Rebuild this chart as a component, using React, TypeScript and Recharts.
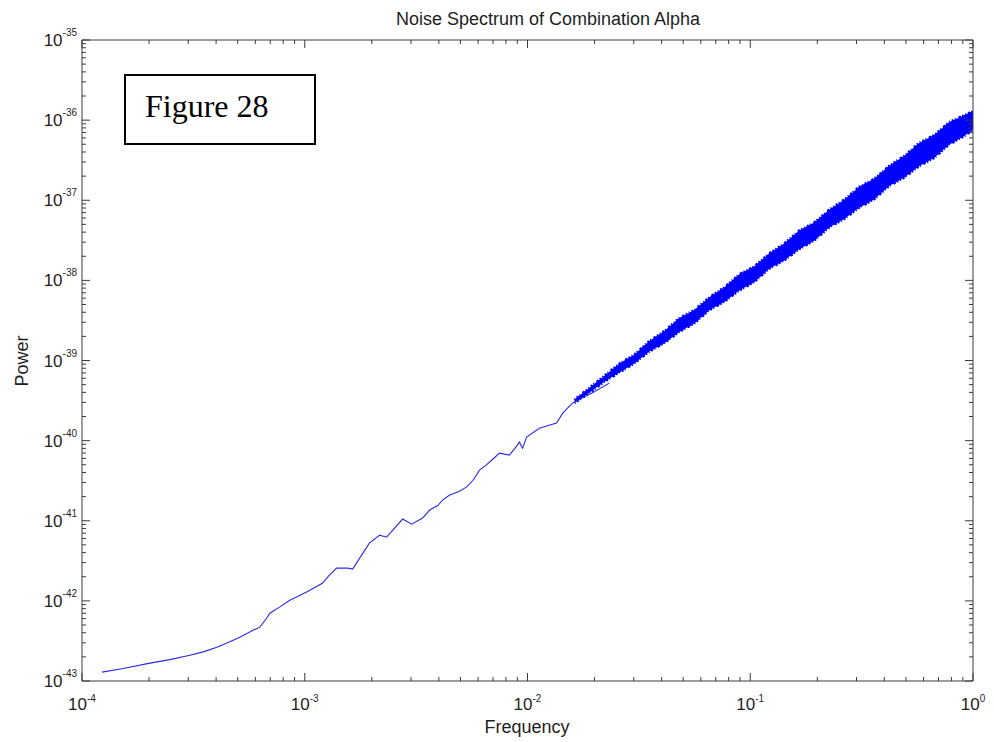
import { ComposedChart, Line, Area, XAxis, YAxis, ReferenceLine } from 'recharts';

// thin trace (frequency, power), up to where the noisy band starts
const freq = [
  1.23e-4, 1.53e-4, 2.02e-4, 2.48e-4, 3.05e-4, 3.5e-4, 4.03e-4, 4.61e-4, 5.11e-4, 5.86e-4,
  6.29e-4, 6.73e-4, 6.97e-4, 7.73e-4, 8.57e-4, 1.02e-3, 1.2e-3, 1.29e-3, 1.39e-3, 1.56e-3,
  1.64e-3, 1.95e-3, 2.17e-3, 2.33e-3, 2.75e-3, 3.02e-3, 3.38e-3, 3.64e-3, 3.95e-3, 4.16e-3,
  4.47e-3, 4.9e-3, 5.32e-3, 5.7e-3, 6.09e-3, 6.5e-3, 7.0e-3, 7.48e-3, 8.29e-3, 8.9e-3,
  9.2e-3, 9.5e-3, 9.91e-3, 1.13e-2, 1.35e-2, 1.44e-2, 1.59e-2, 1.95e-2, 2.33e-2,
];
const power = [
  1.29e-43, 1.43e-43, 1.67e-43, 1.85e-43, 2.1e-43, 2.31e-43, 2.64e-43, 3.08e-43, 3.52e-43, 4.3e-43,
  4.7e-43, 6.03e-43, 7.02e-43, 8.41e-43, 1.02e-42, 1.29e-42, 1.66e-42, 2.09e-42, 2.56e-42, 2.56e-42,
  2.49e-42, 5.25e-42, 6.61e-42, 6.24e-42, 1.05e-41, 9.08e-42, 1.08e-41, 1.36e-41, 1.55e-41, 1.81e-41,
  2.09e-41, 2.3e-41, 2.63e-41, 3.2e-41, 4.28e-41, 4.9e-41, 5.9e-41, 6.98e-41, 6.59e-41, 8.4e-41,
  9.57e-41, 8.05e-41, 1.11e-40, 1.43e-40, 1.66e-40, 2.2e-40, 2.94e-40, 3.92e-40, 5.22e-40,
];

// noisy band at high frequency: lower / upper edge
const bandFreq = [
  0.01625, 0.01897, 0.02215, 0.02586, 0.03019, 0.03524, 0.04114, 0.04803, 0.05609, 0.06548,
  0.07645, 0.08926, 0.1042, 0.1217, 0.1421, 0.1659, 0.1936, 0.2261, 0.2639, 0.3082,
  0.3598, 0.4201, 0.4905, 0.5727, 0.6686, 0.7806, 0.9113, 1,
];
const bandLow = [
  2.94e-40, 3.952e-40, 5.436e-40, 7.083e-40, 9.2e-40, 1.291e-39, 1.644e-39, 2.276e-39, 2.896e-39, 4.246e-39,
  5.39e-39, 7.48e-39, 9.495e-39, 1.396e-38, 1.772e-38, 2.452e-38, 3.122e-38, 4.575e-38, 5.825e-38, 8.062e-38,
  1.023e-37, 1.504e-37, 1.909e-37, 2.65e-37, 3.363e-37, 4.931e-37, 6.279e-37, 7.588e-37,
];
const bandHigh = [
  3.25e-40, 4.563e-40, 6.459e-40, 9.173e-40, 1.192e-39, 1.751e-39, 2.335e-39, 3.383e-39, 4.258e-39, 6.17e-39,
  8.203e-39, 1.192e-38, 1.496e-38, 2.174e-38, 2.888e-38, 4.185e-38, 5.267e-38, 7.632e-38, 1.017e-37, 1.474e-37,
  1.85e-37, 2.689e-37, 3.574e-37, 5.193e-37, 6.516e-37, 9.441e-37, 1.15e-36, 1.3e-36,
];

const xMajor = [1e-4, 1e-3, 1e-2, 1e-1, 1];
const xExp = ['-4', '-3', '-2', '-1', '0'];
const yMajor = [1e-43, 1e-42, 1e-41, 1e-40, 1e-39, 1e-38, 1e-37, 1e-36, 1e-35];
const yExp = ['-43', '-42', '-41', '-40', '-39', '-38', '-37', '-36', '-35'];
const minorSteps = [2, 3, 4, 5, 6, 7, 8, 9];

const AXIS = '#3a3a3a';
const TEXT = '#1e1e1e';
const SANS = '"Liberation Sans", Arial, sans-serif';
const LEFT = 82;
const RIGHT = 973;
const TOP = 40;
const BOTTOM = 681;

const withMinor = (major: number[]) => {
  const out = [...major];
  major.slice(0, -1).forEach((d) => minorSteps.forEach((m) => out.push(d * m)));
  return out.sort((a, b) => a - b);
};
const majorIndex = (list: number[], v: number) => list.findIndex((d) => Math.abs(v / d - 1) < 1e-6);

const lineData = freq.map((f, i) => ({ f, p: power[i] }));
const bandData = bandFreq.map((f, i) => ({ f, band: [bandLow[i], bandHigh[i]] }));

function XTick(props: any) {
  const { x, payload } = props;
  const i = majorIndex(xMajor, payload.value);
  const len = i >= 0 ? 8 : 4;
  return (
    <g>
      <line x1={x} x2={x} y1={BOTTOM} y2={BOTTOM - len} stroke={AXIS} />
      <line x1={x} x2={x} y1={TOP} y2={TOP + len} stroke={AXIS} />
      {i >= 0 && (
        <text x={x} y={BOTTOM + 29} textAnchor="middle" fill={TEXT} fontFamily={SANS} fontSize={17}>
          <tspan>10</tspan>
          <tspan dy={-8} fontSize={10}>{xExp[i]}</tspan>
        </text>
      )}
    </g>
  );
}

function YTick(props: any) {
  const { y, payload } = props;
  const i = majorIndex(yMajor, payload.value);
  const len = i >= 0 ? 8 : 4;
  return (
    <g>
      <line x1={LEFT} x2={LEFT + len} y1={y} y2={y} stroke={AXIS} />
      <line x1={RIGHT} x2={RIGHT - len} y1={y} y2={y} stroke={AXIS} />
      {i >= 0 && (
        <text x={77} y={y + 6} textAnchor="end" fill={TEXT} fontFamily={SANS} fontSize={17}>
          <tspan>10</tspan>
          <tspan dy={-10} fontSize={10}>{yExp[i]}</tspan>
        </text>
      )}
    </g>
  );
}

export default function App() {
  return (
    <div style={{ position: 'absolute', left: 0, top: 0, width: 994, height: 742, background: '#fff' }}>
      <ComposedChart width={994} height={742} margin={{ top: 40, right: 21, bottom: 31, left: 22 }}>
        <XAxis
          dataKey="f"
          type="number"
          scale="log"
          domain={[1e-4, 1]}
          allowDataOverflow
          ticks={withMinor(xMajor)}
          interval={0}
          tick={<XTick />}
          tickLine={false}
          tickSize={0}
          height={30}
          stroke={AXIS}
          label={{
            content: () => (
              <text x={527} y={733} textAnchor="middle" fill={TEXT} fontFamily={SANS} fontSize={18}>
                Frequency
              </text>
            ),
          }}
        />
        <YAxis
          type="number"
          scale="log"
          domain={[1e-43, 1e-35]}
          allowDataOverflow
          ticks={withMinor(yMajor)}
          interval={0}
          tick={<YTick />}
          tickLine={false}
          tickSize={0}
          width={60}
          stroke={AXIS}
          label={{
            content: () => (
              <text
                x={28}
                y={361}
                transform="rotate(-90 28 361)"
                textAnchor="middle"
                fill={TEXT}
                fontFamily={SANS}
                fontSize={18}
              >
                Power
              </text>
            ),
          }}
        />
        <ReferenceLine y={1e-35} stroke={AXIS} />
        <ReferenceLine x={1} stroke={AXIS} />
        <Line
          data={lineData}
          dataKey="p"
          type="linear"
          dot={false}
          stroke="#2a2ae6"
          strokeWidth={1.1}
          isAnimationActive={false}
        />
        <Area
          data={bandData}
          dataKey="band"
          type="linear"
          stroke="#0000ff"
          strokeWidth={2.5}
          strokeDasharray="1 2 2 1.5 1 3 2.5 1.5 1.5 2"
          fill="#0000ff"
          fillOpacity={1}
          isAnimationActive={false}
        />
      </ComposedChart>
      <svg width={994} height={742} style={{ position: 'absolute', left: 0, top: 0, pointerEvents: 'none' }}>
        <text x={548} y={25} textAnchor="middle" fill={TEXT} fontFamily={SANS} fontSize={18}>
          Noise Spectrum of Combination Alpha
        </text>
        <rect x={125} y={75} width={190} height={69} fill="#fff" stroke="#000" strokeWidth={2} />
        <text x={145} y={117} fill="#000" fontFamily='"Liberation Serif", "Times New Roman", serif' fontSize={32}>
          Figure 28
        </text>
      </svg>
    </div>
  );
}
